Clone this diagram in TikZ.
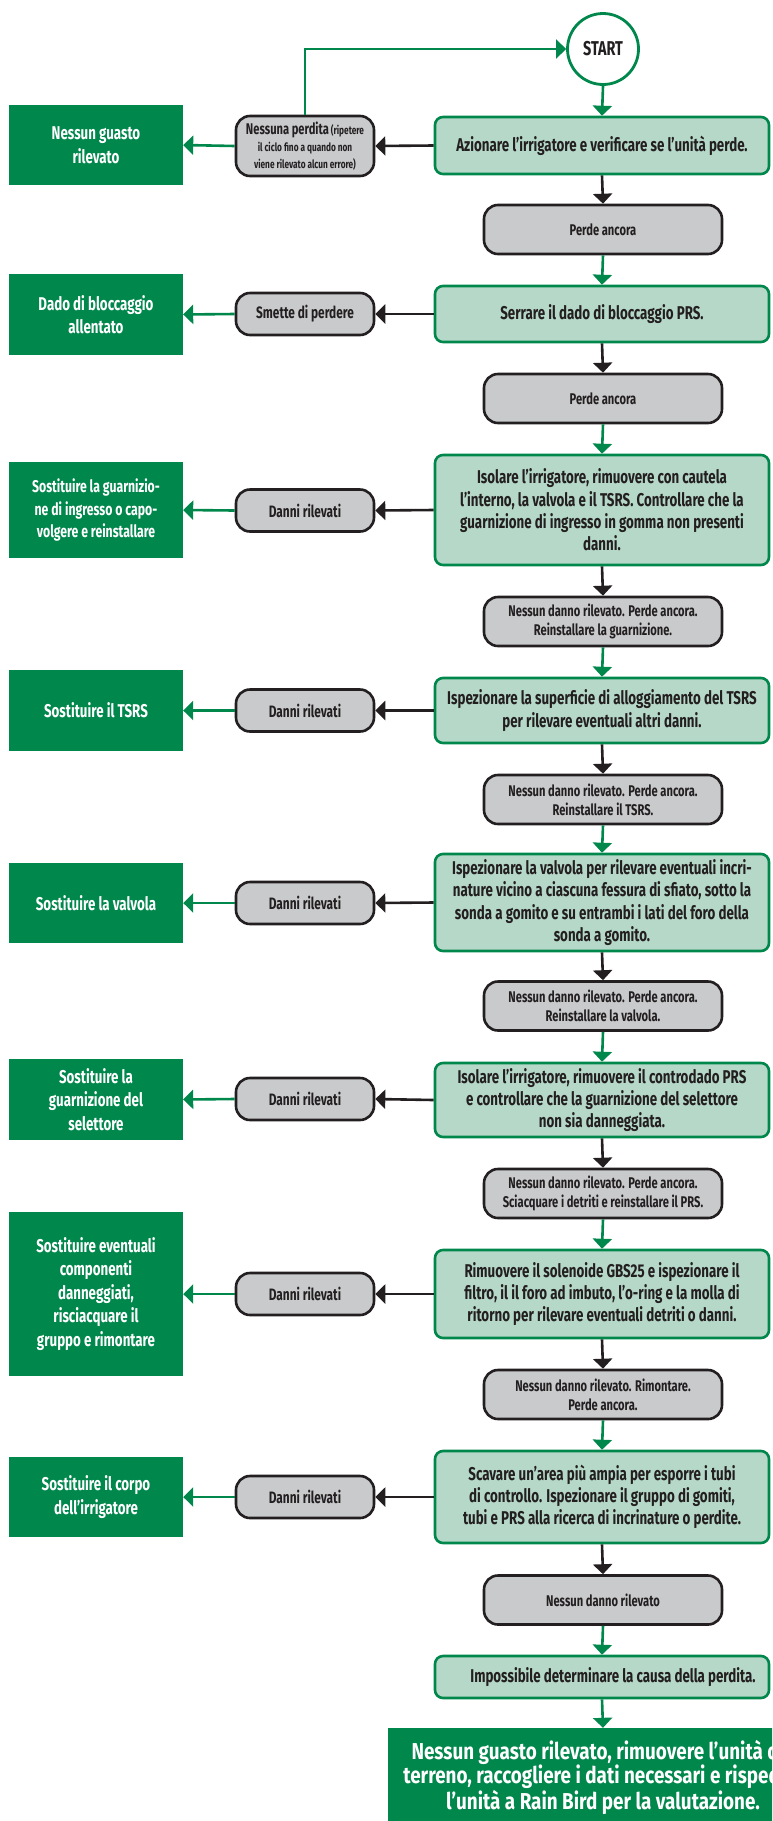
\documentclass[tikz,border=0pt]{standalone}
\usepackage{fontspec}
\setmainfont{Fira Sans}[FakeStretch=0.72]
\newfontfamily\widefont{Fira Sans}[FakeStretch=0.82]
\usetikzlibrary{arrows.meta}
\definecolor{rbgreen}{HTML}{00874C}
\definecolor{lightfill}{HTML}{B5D8C8}
\definecolor{grayfill}{HTML}{C9CACC}
\definecolor{inkdark}{HTML}{231F20}
\begin{document}
\begin{tikzpicture}[x=1pt,y=-1pt,
  lightbox/.style={draw=rbgreen, line width=2.6pt, fill=lightfill, rounded corners=8pt,
    minimum width=334pt, align=center, text=inkdark, inner sep=0pt,
    font=\fontsize{18.5}{22.3}\selectfont\bfseries},
  midbox/.style={draw=inkdark, line width=2.6pt, fill=grayfill, rounded corners=14pt,
    minimum width=238pt, minimum height=49pt, align=center, text=inkdark, inner sep=0pt,
    font=\fontsize{15.5}{19}\selectfont\bfseries},
  sidebox/.style={draw=inkdark, line width=2.6pt, fill=grayfill, rounded corners=14pt,
    minimum width=138pt, minimum height=42pt, align=center, text=inkdark, inner sep=0pt,
    font=\fontsize{16.5}{17}\selectfont\bfseries},
  resbox/.style={fill=rbgreen, minimum width=174pt, align=center, text=white, inner sep=0pt,
    font=\fontsize{18.5}{23.5}\selectfont\bfseries},
  arrB/.style={draw=inkdark, line width=2.6pt, -{Triangle[length=10pt,width=19pt]}},
  arrG/.style={draw=rbgreen, line width=2.6pt, -{Triangle[length=10pt,width=19pt]}},
]
\useasboundingbox (0,0) rectangle (772,1821);
\clip (0,0) rectangle (772,1821);

% start
\node[circle, draw=rbgreen, line width=2.8pt, fill=white, minimum size=71pt, inner sep=0pt,
  text=inkdark, font=\fontsize{20}{22}\selectfont\bfseries] (S) at (603,49) {START};

% main column
\node[lightbox, minimum height=57pt] (L1) at (602,145.5) {Azionare l’irrigatore e verificare se l’unità perde.};
\node[lightbox, minimum height=56pt] (L2) at (602,314) {Serrare il dado di bloccaggio PRS.};
\node[lightbox, minimum height=110pt] (L3) at (602,510) {Isolare l’irrigatore, rimuovere con cautela\\l’interno, la valvola e il TSRS. Controllare che la\\guarnizione di ingresso in gomma non presenti\\danni.};
\node[lightbox, minimum height=65pt] (L4) at (602,710.5) {Ispezionare la superficie di alloggiamento del TSRS\\per rilevare eventuali altri danni.};
\node[lightbox, minimum height=97pt] (L5) at (602,902.5) {Ispezionare la valvola per rilevare eventuali incri-\\nature vicino a ciascuna fessura di sfiato, sotto la\\sonda a gomito e su entrambi i lati del foro della\\sonda a gomito.};
\node[lightbox, minimum height=74pt] (L6) at (602,1100) {Isolare l’irrigatore, rimuovere il controdado PRS\\e controllare che la guarnizione del selettore\\non sia danneggiata.};
\node[lightbox, minimum height=88pt] (L7) at (602,1294) {Rimuovere il solenoide GBS25 e ispezionare il\\filtro, il il foro ad imbuto, l’o-ring e la molla di\\ritorno per rilevare eventuali detriti o danni.};
\node[lightbox, minimum height=92pt] (L8) at (602,1497) {Scavare un’area più ampia per esporre i tubi\\di controllo. Ispezionare il gruppo di gomiti,\\tubi e PRS alla ricerca di incrinature o perdite.};
\node[lightbox, minimum height=42pt] (L9) at (602,1677) {\hspace*{22pt}Impossibile determinare la causa della perdita.};

\node[midbox] (G1) at (603,229.5) {Perde ancora};
\node[midbox] (G2) at (603,398.5) {Perde ancora};
\node[midbox] (G3) at (603,621.5) {Nessun danno rilevato. Perde ancora.\\Reinstallare la guarnizione.};
\node[midbox] (G4) at (603,799.5) {Nessun danno rilevato. Perde ancora.\\Reinstallare il TSRS.};
\node[midbox] (G5) at (603,1006) {Nessun danno rilevato. Perde ancora.\\Reinstallare la valvola.};
\node[midbox] (G6) at (603,1193.5) {Nessun danno rilevato. Perde ancora.\\Sciacquare i detriti e reinstallare il PRS.};
\node[midbox] (G7) at (603,1394.5) {Nessun danno rilevato. Rimontare.\\Perde ancora.};
\node[midbox] (G8) at (603,1600) {Nessun danno rilevato};

% side column
\node[sidebox, minimum height=60pt, font=\fontsize{11.5}{17}\selectfont\bfseries] (D1) at (305,146)
  {{\fontsize{15.5}{17}\selectfont Nessuna perdita} (ripetere\\il ciclo fino a quando non\\viene rilevato alcun errore)};
\node[sidebox] (D2) at (305,314) {Smette di perdere};
\node[sidebox] (D3) at (305,510.5) {Danni rilevati};
\node[sidebox] (D4) at (305,710.5) {Danni rilevati};
\node[sidebox] (D5) at (305,903) {Danni rilevati};
\node[sidebox] (D6) at (305,1099) {Danni rilevati};
\node[sidebox] (D7) at (305,1294) {Danni rilevati};
\node[sidebox] (D8) at (305,1497) {Danni rilevati};

% result boxes
\node[resbox, minimum height=80pt] (K1) at (96,145) {Nessun guasto\\rilevato};
\node[resbox, minimum height=81pt] (K2) at (96,314.5) {Dado di bloccaggio\\allentato};
\node[resbox, minimum height=96pt, font=\fontsize{17}{22.5}\selectfont\bfseries] (K3) at (96,510) {Sostituire la guarnizio-\\ne di ingresso o capo-\\volgere e reinstallare};
\node[resbox, minimum height=81pt] (K4) at (96,710.5) {Sostituire il TSRS};
\node[resbox, minimum height=80pt] (K5) at (96,903) {Sostituire la valvola};
\node[resbox, minimum height=81pt] (K6) at (96,1099.5) {Sostituire la\\guarnizione del\\selettore};
\node[resbox, minimum height=164pt] (K7) at (96,1294) {Sostituire eventuali\\componenti\\danneggiati,\\risciacquare il\\gruppo e rimontare};
\node[resbox, minimum height=80pt] (K8) at (96,1497) {Sostituire il corpo\\dell’irrigatore};

\node[resbox, minimum width=430pt, minimum height=98pt, font=\widefont\fontsize{23}{23.3}\selectfont\bfseries] (F) at (603,1777)
  {Nessun guasto rilevato, rimuovere l’unità dal\\terreno, raccogliere i dati necessari e rispedire\\l’unità a Rain Bird per la valutazione.};

% connectors
\draw[arrG] (D1.north) -- (D1.north |- S.west) -- (S.west);
\draw[arrG] (S.south) -- (L1.north);
\foreach \i in {1,...,8} {
  \draw[arrB] (L\i.west) -- (D\i.east);
  \draw[arrG] (D\i.west) -- (K\i.east);
  \draw[arrB] (L\i.south) -- (G\i.north);
}
\draw[arrG] (G1.south) -- (L2.north);
\draw[arrG] (G2.south) -- (L3.north);
\draw[arrG] (G3.south) -- (L4.north);
\draw[arrG] (G4.south) -- (L5.north);
\draw[arrG] (G5.south) -- (L6.north);
\draw[arrG] (G6.south) -- (L7.north);
\draw[arrG] (G7.south) -- (L8.north);
\draw[arrG] (G8.south) -- (L9.north);
\draw[arrG] (L9.south) -- (F.north);
\end{tikzpicture}
\end{document}
